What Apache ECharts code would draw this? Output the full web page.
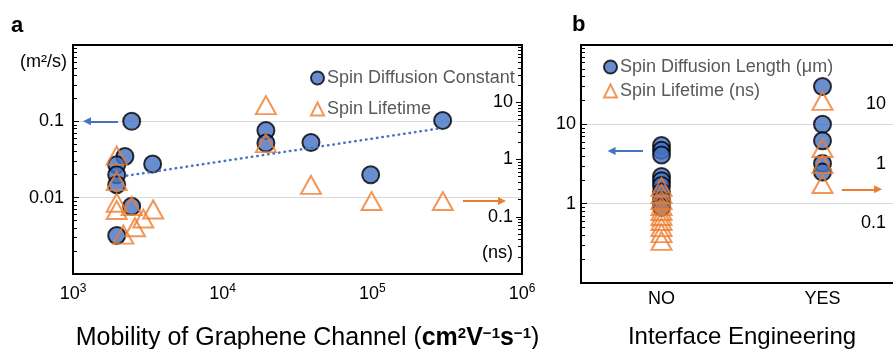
<!DOCTYPE html>
<html>
<head>
<meta charset="utf-8">
<script src="https://cdn.jsdelivr.net/npm/echarts@6/dist/echarts.min.js"></script>
<style>
  html, body { margin: 0; padding: 0; background: #fff; }
  #chart { width: 893px; height: 349px; }
</style>
</head>
<body>
<div id="chart"></div>
<script>
// ---- panel a : mobility of graphene channel ----
const mobilityD = [2466, 2223, 3405, 1959, 1959, 1959, 2466, 1959, 19450, 19450, 38900, 97500, 295000];
const diffConst = [0.1, 0.0347, 0.0276, 0.027, 0.020, 0.0148, 0.0077, 0.0032, 0.0759, 0.0519, 0.0528, 0.020, 0.1024];
const mobilityT = [1959, 1959, 1959, 1959, 2466, 3435, 2950, 2595, 2168, 19450, 19450, 38900, 98900, 296000];
const lifetimeA = [1.17, 0.42, 0.176, 0.131, 0.154, 0.134, 0.093, 0.0656, 0.0488, 8.9, 1.93, 0.361, 0.188, 0.188];
const trendX = [2285, 290500];
const trendY = [0.0194, 0.0815];
const arrowA_blue = [[2000, 0.1], [1240, 0.1]];
const arrowA_orange = [[403000, 0.188], [735000, 0.188]];

// ---- panel b : interface engineering ----
const engCategories = ['NO', 'YES'];   // drawn at x = 1 and x = 3
const lengthNO = [5.4, 4.7, 4.1, 2.2, 1.95, 1.7, 1.4, 1.1, 0.9];
const lengthYES = [30, 10, 6.2, 3.2, 2.5];
const lifetimeNO = [0.41, 0.313, 0.248, 0.197, 0.162, 0.134, 0.11, 0.087, 0.069, 0.051];
const lifetimeYES = [11.5, 1.86, 1.0, 0.46];
const arrowB_blue = [[0.77, 4.6], [0.38, 4.6]];
const arrowB_orange = [[3.24, 0.376], [3.69, 0.376]];

// tick labels (by power of ten)
const xExpA = [3, 4, 5, 6];
const yLeftExpA = [-1, -2], yLeftLabA = ['0.1', '0.01'];
const yRightExpA = [1, 0, -1], yRightLabA = ['10', '1', '0.1'];
const yLeftExpB = [1, 0], yLeftLabB = ['10', '1'];
const yRightExpB = [1, 0, -1], yRightLabB = ['10', '1', '0.1'];

const BLUE = '#4472C4';
const ORANGE = '#ED7D31';
const FONT = 'Liberation Sans, Arial, sans-serif';

function expLabel(exps, labels) {
  return function (v) {
    const e = Math.round(Math.log10(v));
    const i = exps.indexOf(e);
    return i < 0 ? '' : labels[i];
  };
}
// minor ticks 2..9 x 10^e
function logTicks(lo, hi) {
  const out = [];
  for (let e = lo; e < hi; e++) {
    for (let k = 2; k < 10; k++) out.push(+(k * Math.pow(10, e)).toPrecision(6));
  }
  return out;
}
function pairs(xs, ys) { return xs.map((x, i) => [x, ys[i]]); }
function arrow(pts, color) {
  return {
    silent: true,
    symbol: ['none', 'triangle'],
    symbolSize: [8, 8],
    label: { show: false },
    lineStyle: { color: color, width: 2, type: 'solid' },
    emphasis: { disabled: true },
    data: [[{ coord: pts[0] }, { coord: pts[1] }]]
  };
}

const blackLine = { show: true, lineStyle: { color: '#000', width: 2 } };
const circleStyle = { color: BLUE, borderColor: '#000', borderWidth: 2 };
const triStyle = { color: 'rgba(0,0,0,0)', borderColor: ORANGE, borderWidth: 2 };

const chart = echarts.init(document.getElementById('chart'));
chart.setOption({
  animation: false,
  textStyle: { fontFamily: FONT },
  grid: [
    { left: 73, top: 45, width: 449, height: 229, outerBoundsMode: 'none', show: true, borderColor: '#000', borderWidth: 2 },
    { left: 581, top: 45, width: 322, height: 238, outerBoundsMode: 'none', show: true, borderColor: '#000', borderWidth: 2 }
  ],
  legend: [
    {
      data: ['Spin Diffusion Constant', 'Spin Lifetime'],
      orient: 'vertical', left: 305, top: 63, itemWidth: 13, itemHeight: 13, itemGap: 11,
      selectedMode: false,
      textStyle: { fontSize: 18, color: '#595959', lineHeight: 20, padding: [0, 0, 0, -2] }
    },
    {
      data: ['Spin Diffusion Length (μm)', 'Spin Lifetime (ns)'],
      orient: 'vertical', left: 598, top: 52, itemWidth: 13, itemHeight: 13, itemGap: 4,
      selectedMode: false,
      textStyle: { fontSize: 18, color: '#595959', lineHeight: 20, padding: [0, 0, 0, -2] }
    }
  ],
  xAxis: [
    {
      type: 'log', gridIndex: 0, min: 1e3, max: 1e6,
      axisLine: blackLine, axisTick: { show: false }, minorTick: { show: false }, splitLine: { show: false },
      axisLabel: {
        margin: 5,
        formatter: function (v) {
          const e = Math.round(Math.log10(v));
          return xExpA.indexOf(e) < 0 ? '' : '{b|10}{s|' + e + '}';
        },
        rich: {
          b: { fontSize: 18, color: '#000', verticalAlign: 'bottom', lineHeight: 24 },
          s: { fontSize: 12, color: '#000', verticalAlign: 'bottom', lineHeight: 24, padding: [0, 0, 8, 0] }
        }
      },
      name: '{n|Mobility of Graphene Channel (}{b|cm}{bs|2}{b|V}{bs|−1}{b|s}{bs|−1}{n|)}',
      nameLocation: 'middle', nameGap: 47,
      nameTextStyle: {
        padding: [0, 0, 0, 20],
        rich: {
          n: { fontSize: 25, color: '#000', verticalAlign: 'bottom', lineHeight: 30 },
          b: { fontSize: 25, fontWeight: 'bold', color: '#000', verticalAlign: 'bottom', lineHeight: 30 },
          bs: { fontSize: 15, fontWeight: 'bold', color: '#000', verticalAlign: 'bottom', lineHeight: 30, padding: [0, 0, 10, 0] }
        }
      }
    },
    {
      type: 'value', gridIndex: 1, min: 0, max: 4, interval: 1,
      axisLine: blackLine, axisTick: { show: false }, splitLine: { show: false },
      axisLabel: {
        margin: 7, fontSize: 18, color: '#000',
        formatter: function (v) { return v % 2 === 1 ? engCategories[(v - 1) / 2] : ''; }
      },
      name: 'Interface Engineering',
      nameLocation: 'middle', nameGap: 42,
      nameTextStyle: { fontSize: 24, color: '#000', verticalAlign: 'top' }
    }
  ],
  yAxis: [
    { // 0: panel a left (m2/s)
      type: 'log', gridIndex: 0, position: 'left', min: 0.001, max: 1,
      axisLine: blackLine,
      axisTick: { show: true, inside: true, length: 6, lineStyle: { color: '#000', width: 1 } },
      minorTick: { show: false },
      axisLabel: { margin: 9, fontSize: 18, color: '#000', formatter: expLabel(yLeftExpA, yLeftLabA) },
      splitLine: { show: true, showMinLine: false, showMaxLine: false, lineStyle: { color: '#D9D9D9', width: 1 } },
      minorSplitLine: { show: false }
    },
    { // 1: panel a right (ns)
      type: 'log', gridIndex: 0, position: 'right', min: 0.01, max: 100,
      axisLine: blackLine,
      axisTick: { show: true, inside: true, length: 6, lineStyle: { color: '#000', width: 1 } },
      minorTick: { show: false },
      axisLabel: { inside: true, margin: 9, fontSize: 18, color: '#000', formatter: expLabel(yRightExpA, yRightLabA) },
      splitLine: { show: false }, minorSplitLine: { show: false }
    },
    { // 2: panel b left (um)
      type: 'log', gridIndex: 1, position: 'left', min: 0.1, max: 100,
      axisLine: blackLine,
      axisTick: { show: true, inside: true, length: 6, lineStyle: { color: '#000', width: 1 } },
      minorTick: { show: false },
      axisLabel: { margin: 5, fontSize: 18, color: '#000', formatter: expLabel(yLeftExpB, yLeftLabB) },
      splitLine: { show: true, showMinLine: false, showMaxLine: false, lineStyle: { color: '#D9D9D9', width: 1 } },
      minorSplitLine: { show: false }
    },
    { // 3: panel b right (ns), axis itself is outside the picture
      type: 'log', gridIndex: 1, position: 'right', min: 0.01, max: 100,
      axisLine: { show: false }, axisTick: { show: false }, minorTick: { show: false },
      axisLabel: { inside: true, margin: 17, fontSize: 18, color: '#000', formatter: expLabel(yRightExpB, yRightLabB) },
      splitLine: { show: false }, minorSplitLine: { show: false }
    },
    { // 4: minor ticks, panel a left
      type: 'log', gridIndex: 0, position: 'left', min: 0.001, max: 1,
      axisLine: blackLine, axisLabel: { show: false }, splitLine: { show: false }, minorTick: { show: false },
      axisTick: { show: true, inside: true, length: 4, customValues: logTicks(-3, 0), lineStyle: { color: '#000', width: 1 } }
    },
    { // 5: minor ticks, panel a right
      type: 'log', gridIndex: 0, position: 'right', min: 0.01, max: 100,
      axisLine: blackLine, axisLabel: { show: false }, splitLine: { show: false }, minorTick: { show: false },
      axisTick: { show: true, inside: true, length: 4, customValues: logTicks(-2, 2), lineStyle: { color: '#000', width: 1 } }
    },
    { // 6: minor ticks, panel b left
      type: 'log', gridIndex: 1, position: 'left', min: 0.1, max: 100,
      axisLine: blackLine, axisLabel: { show: false }, splitLine: { show: false }, minorTick: { show: false },
      axisTick: { show: true, inside: true, length: 4, customValues: logTicks(-1, 2), lineStyle: { color: '#000', width: 1 } }
    }
  ],
  graphic: [
    { type: 'text', left: 11, top: 15, style: { text: 'a', font: 'bold 22px ' + FONT, fill: '#000' } },
    { type: 'text', left: 572, top: 14, style: { text: 'b', font: 'bold 22px ' + FONT, fill: '#000' } },
    { type: 'text', right: 893 - 67, top: 53, style: { text: '(m²/s)', font: '18px ' + FONT, fill: '#000' } },
    { type: 'text', right: 893 - 513, top: 244, style: { text: '(ns)', font: '18px ' + FONT, fill: '#000' } }
  ],
  series: [
    {
      type: 'line', xAxisIndex: 0, yAxisIndex: 0, data: pairs(trendX, trendY),
      showSymbol: false, silent: true,
      lineStyle: { color: BLUE, width: 2.5, type: [0.5, 5], cap: 'round' }
    },
    {
      name: 'Spin Diffusion Constant', type: 'scatter', xAxisIndex: 0, yAxisIndex: 0,
      data: pairs(mobilityD, diffConst), symbol: 'circle', symbolSize: 17,
      itemStyle: circleStyle, markLine: arrow(arrowA_blue, BLUE)
    },
    {
      name: 'Spin Lifetime', type: 'scatter', xAxisIndex: 0, yAxisIndex: 1,
      data: pairs(mobilityT, lifetimeA), symbol: 'triangle', symbolSize: [20, 18],
      itemStyle: triStyle, markLine: arrow(arrowA_orange, ORANGE)
    },
    {
      name: 'Spin Diffusion Length (μm)', type: 'scatter', xAxisIndex: 1, yAxisIndex: 2,
      data: lengthNO.map(v => [1, v]).concat(lengthYES.map(v => [3, v])),
      symbol: 'circle', symbolSize: 17, itemStyle: circleStyle,
      markLine: arrow(arrowB_blue, BLUE)
    },
    {
      name: 'Spin Lifetime (ns)', type: 'scatter', xAxisIndex: 1, yAxisIndex: 3,
      data: lifetimeNO.map(v => [1, v]).concat(lifetimeYES.map(v => [3, v])),
      symbol: 'triangle', symbolSize: [20, 18], itemStyle: triStyle,
      markLine: arrow(arrowB_orange, ORANGE)
    }
  ]
});
</script>
</body>
</html>
